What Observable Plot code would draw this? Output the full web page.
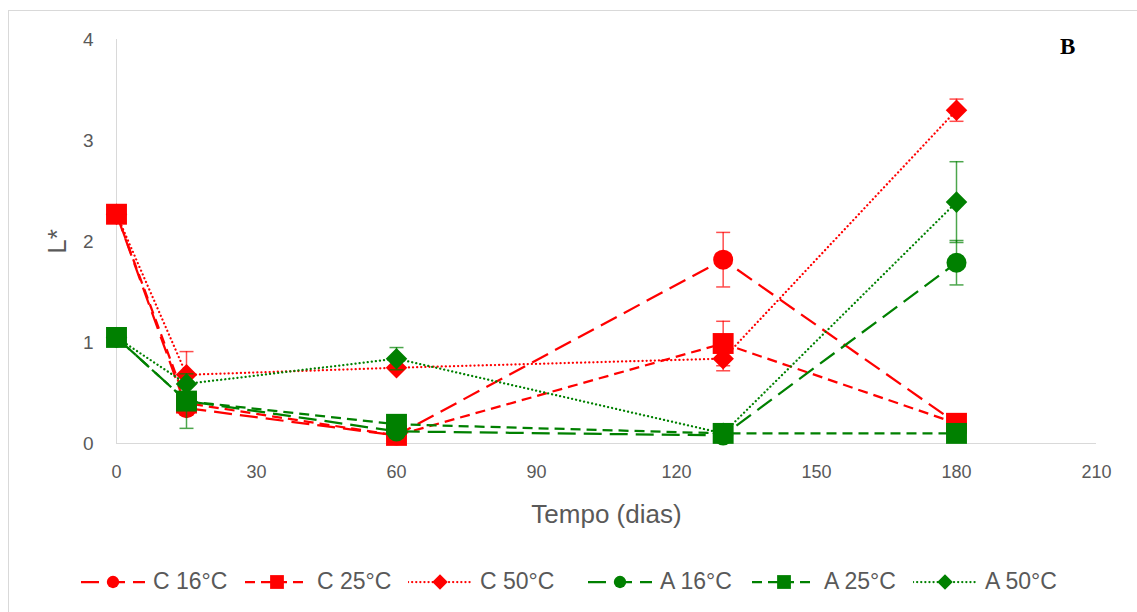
<!DOCTYPE html>
<html><head><meta charset="utf-8">
<script src="https://cdn.jsdelivr.net/npm/d3@7"></script>
<script src="https://cdn.jsdelivr.net/npm/@observablehq/plot@0.6"></script>
<style>
html,body{margin:0;padding:0;background:#fff;overflow:hidden;width:1137px;height:612px;}
#frame{position:absolute;left:8px;top:10px;width:1140px;height:610px;border:1px solid #d9d9d9;box-sizing:border-box;}
#chart{position:absolute;left:0;top:0;}
#tag{position:absolute;left:1060px;top:34px;font:bold 23px "Liberation Serif";color:#000;}
#legend{position:absolute;left:0;top:568px;width:1137px;height:26px;font:23px "Liberation Sans";color:#595959;}
.item{position:absolute;top:0;display:flex;align-items:center;white-space:nowrap;}
.item svg{margin-right:8px;}
g[aria-label="x-axis label"] text{font-size:26px;}
g[aria-label="y-axis label"] text{font-size:26px;}
g[aria-label="x-axis tick label"] text{font-size:18px;}
g[aria-label="y-axis tick label"] text{font-size:19px;}
</style></head><body>
<div id="frame"></div>
<div id="chart"></div>
<div id="tag">B</div>
<div id="legend"></div>
<script>
// ---- data ----
const days = [0, 15, 60, 130, 180];
const seriesNames = ["C 16°C", "C 25°C", "C 50°C", "A 16°C", "A 25°C", "A 50°C"];
const c16 = [2.27, 0.35, 0.08, 1.82, 0.20];
const c25 = [2.27, 0.40, 0.08, 0.99, 0.20];
const c50 = [2.27, 0.68, 0.75, 0.84, 3.30];
const a16 = [1.05, 0.42, 0.12, 0.08, 1.79];
const a25 = [1.05, 0.42, 0.19, 0.10, 0.10];
const a50 = [1.05, 0.59, 0.84, 0.10, 2.39];
const c16Err = [0, 0, 0, 0.27, 0];
const c25Err = [0, 0, 0, 0.22, 0];
const c50Err = [0, 0.23, 0, 0.12, 0.11];
const a16Err = [0, 0.27, 0, 0, 0.22];
const a25Err = [0, 0, 0, 0, 0];
const a50Err = [0, 0, 0.11, 0, 0.40];
const xTicks = [0, 30, 60, 90, 120, 150, 180, 210];
const yTicks = [0, 1, 2, 3, 4];

const values = [c16, c25, c50, a16, a25, a50];
const errors = [c16Err, c25Err, c50Err, a16Err, a25Err, a50Err];

// ---- styles ----
const RED = "#ff0000", GREEN = "#008000";
const diamond = {draw(ctx, size) { const r = Math.sqrt(size / 2); ctx.moveTo(0, -r); ctx.lineTo(r, 0); ctx.lineTo(0, r); ctx.lineTo(-r, 0); ctx.closePath(); }};
const capSym = {draw(ctx, size) { ctx.moveTo(-7, 0); ctx.lineTo(7, 0); }};
const styles = [
  {color: RED, dash: "18,8", cap: "butt", symbol: "circle", r: 10},
  {color: RED, dash: "10,6", cap: "butt", symbol: "square", r: 11.8},
  {color: RED, dash: "0.1,4", cap: "round", symbol: diamond, r: 8.6},
  {color: GREEN, dash: "18,8", cap: "butt", symbol: "circle", r: 10},
  {color: GREEN, dash: "10,6", cap: "butt", symbol: "square", r: 11.8},
  {color: GREEN, dash: "0.1,4", cap: "round", symbol: diamond, r: 8.6}
];
const legendLeft = [81, 245, 408, 588, 752, 913];

const tables = values.map((vals, s) => days.map((d, i) => ({day: d, v: vals[i], e: errors[s][i], series: seriesNames[s]})));

const marks = [
  Plot.ruleY([0], {stroke: "#d9d9d9", strokeWidth: 1}),
  Plot.ruleX([0], {stroke: "#d9d9d9", strokeWidth: 1}),
  Plot.axisX({ticks: xTicks, tickSize: 0, tickPadding: 22, tickFormat: d => d, label: "Tempo (dias)", labelArrow: "none", labelAnchor: "center", labelOffset: 79}),
  Plot.axisY({ticks: yTicks, tickSize: 0, tickPadding: 23, tickFormat: d => d, label: "L*", labelArrow: "none", labelAnchor: "center", labelOffset: 69})
];
tables.forEach((t, s) => {
  const st = styles[s];
  const withErr = t.filter(d => d.e > 0);
  marks.push(Plot.line(t, {x: "day", y: "v", stroke: st.color, strokeWidth: 2.25, strokeDasharray: st.dash, strokeLinecap: st.cap}));
  marks.push(Plot.ruleX(withErr, {x: "day", y1: d => d.v - d.e, y2: d => d.v + d.e, stroke: st.color, strokeOpacity: 0.7, strokeWidth: 1.5}));
  marks.push(Plot.dot(withErr, {x: "day", y: d => d.v + d.e, symbol: capSym, r: 3, fill: "none", stroke: st.color, strokeOpacity: 0.7, strokeWidth: 1.5}));
  marks.push(Plot.dot(withErr, {x: "day", y: d => d.v - d.e, symbol: capSym, r: 3, fill: "none", stroke: st.color, strokeOpacity: 0.7, strokeWidth: 1.5}));
  marks.push(Plot.dot(t, {x: "day", y: "v", symbol: st.symbol, r: st.r, fill: st.color, stroke: "none"}));
});

const chart = Plot.plot({
  width: 1137, height: 550,
  marginLeft: 116, marginRight: 41, marginTop: 39, marginBottom: 107,
  style: {fontFamily: "Liberation Sans", color: "#595959", background: "transparent"},
  x: {domain: [0, 210]},
  y: {domain: [0, 4]},
  marks
});
// strip any label arrows the library version might add
d3.select(chart).selectAll('g[aria-label$="axis label"] text').each(function() {
  this.textContent = this.textContent.replace(/\s*[→←↑↓]\s*/g, "");
});
document.getElementById("chart").appendChild(chart);

// ---- legend ----
const legend = d3.select("#legend");
seriesNames.forEach((name, s) => {
  const st = styles[s];
  const item = legend.append("div").attr("class", "item").style("left", legendLeft[s] + "px");
  const svg = item.append("svg").attr("width", 64).attr("height", 24);
  svg.append("line").attr("x1", 0).attr("x2", 64).attr("y1", 12).attr("y2", 12)
    .attr("stroke", st.color).attr("stroke-width", 2.25).attr("stroke-dasharray", st.dash).attr("stroke-linecap", st.cap);
  const sym = st.symbol === "circle" ? d3.symbolCircle : st.symbol === "square" ? d3.symbolSquare : diamond;
  const size = st.symbol === "circle" ? 120 : st.symbol === "square" ? 190 : 120;
  svg.append("path").attr("d", d3.symbol(sym, size)()).attr("transform", "translate(32,12)").attr("fill", st.color);
  item.append("span").text(name);
});
</script>
</body></html>
